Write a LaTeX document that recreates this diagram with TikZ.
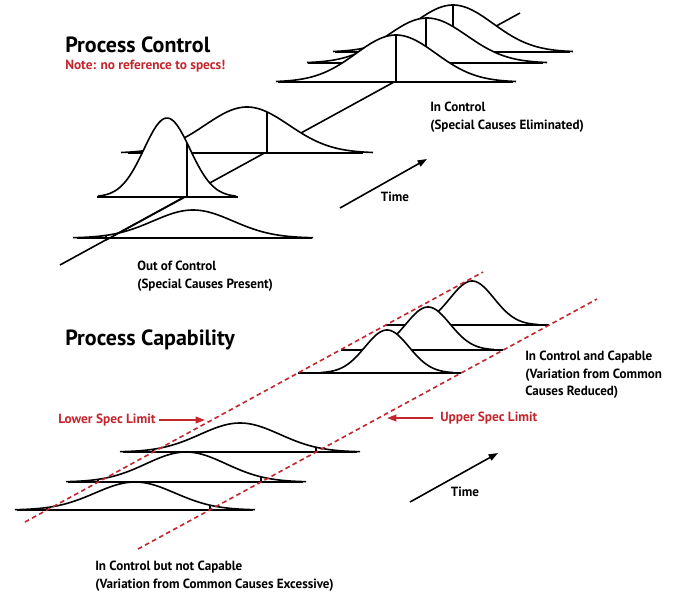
\documentclass[tikz,border=0pt]{standalone}
\usepackage{fontspec}
\setmainfont{PT Sans}
\usepackage{xcolor}
\usetikzlibrary{arrows.meta}
\definecolor{specred}{RGB}{196,38,46}

% mu, baseline y, sigma, height, left end, right end
\newcommand{\bellcurve}[6]{%
\fill[white] plot[domain=#1-3*#3:#1+3*#3,samples=80] (\x,{#2-#4*exp(-0.5*((\x-#1)/#3)*((\x-#1)/#3))}) -- cycle;
\draw[bell] plot[domain=#1-3*#3:#1+3*#3,samples=80] (\x,{#2-#4*exp(-0.5*((\x-#1)/#3)*((\x-#1)/#3))});
\draw[bell] (#5,#2)--(#6,#2);}
% vertical from the baseline up to the curve at x=#5
\newcommand{\bellmark}[5]{%
\draw[bell] (#5,#2)--(#5,{#2-#4*exp(-0.5*((#5-#1)/#3)*((#5-#1)/#3))});}

\begin{document}
\begin{tikzpicture}[x=0.75pt,y=-0.75pt,
  bell/.style={line width=1.2pt,line join=round},
  spec/.style={specred,line width=1.2pt,dash pattern=on 3.5pt off 2.5pt},
  title/.style={inner sep=0pt,anchor=base west,font=\bfseries\fontsize{16.5}{19}\selectfont,xscale=1.0},
  note/.style={inner sep=0pt,anchor=base west,specred,font=\bfseries\fontsize{10}{12}\selectfont,xscale=1.0},
  lbl/.style={inner sep=0pt,anchor=north west,align=left,font=\bfseries\fontsize{10}{13}\selectfont,xscale=0.98},
  speclbl/.style={inner sep=0pt,anchor=west,specred,font=\bfseries\fontsize{10}{12}\selectfont,xscale=1.0},
  timearrow/.style={line width=1.2pt,-{Triangle[length=7pt,width=5pt]}},
  specarrow/.style={specred,line width=1.2pt,-{Triangle[length=7pt,width=5pt]}}]
\useasboundingbox[fill=white] (0,0) rectangle (680,597);

\node[title] (pctitle) at (65,52) {Process Control};
\node[note] (pcnote) at (65,69) {Note: no reference to specs!};

\coordinate (axstart) at (60,265);
\coordinate (axend) at (520,13);
\draw[bell] (axstart)--(axend);

\bellcurve{453}{52}{40}{47}{335}{570}
\bellmark{453}{52}{40}{47}{453}
\bellcurve{427}{63}{40}{45}{308}{543}
\bellmark{427}{63}{40}{45}{426}
\bellcurve{396}{82}{40}{47}{278}{513}
\bellmark{396}{82}{40}{47}{396}
\bellcurve{247}{153}{42}{46}{128}{363}
\bellmark{247}{153}{42}{46}{267}
\bellcurve{167}{197}{23}{79}{97}{238}
\bellmark{167}{197}{23}{79}{187}
\bellcurve{193}{238}{40}{28}{77}{312}
\bellmark{193}{238}{40}{28}{106}
\draw[bell] (106,240)--(185,197);

\node[lbl] (incontrol) at (430,102) {In Control\\(Special Causes Eliminated)};
\node[lbl] (outcontrol) at (137,261) {Out of Control\\(Special Causes Present)};
\coordinate (time1s) at (340,208);
\coordinate (time1e) at (427,159);
\draw[timearrow] (time1s)--(time1e);
\node[lbl,anchor=center] (time1) at (395,197) {Time};

\node[title] (pcaptitle) at (65,345) {Process Capability};

\bellcurve{472}{325}{22}{44}{386}{549}
\bellcurve{428}{350}{22}{43}{341}{503}
\bellcurve{387}{373}{22}{43}{298}{461}
\bellcurve{240}{452}{40}{29}{123}{357}
\bellmark{240}{452}{40}{29}{153}
\bellmark{240}{452}{40}{29}{316}
\bellcurve{186}{482}{40}{30}{68}{303}
\bellmark{186}{482}{40}{30}{98}
\bellmark{186}{482}{40}{30}{261}
\bellcurve{135}{510}{40}{28}{17}{253}
\bellmark{135}{510}{40}{28}{47}
\bellmark{135}{510}{40}{28}{210}

\coordinate (lslstart) at (25,522);
\coordinate (lslend) at (483,272);
\coordinate (uslstart) at (138,549);
\coordinate (uslend) at (597,299);
\draw[spec] (lslstart)--(lslend);
\draw[spec] (uslstart)--(uslend);

\node[speclbl] (lsl) at (58,420) {Lower Spec Limit};
\coordinate (lslhead) at (205,420);
\draw[specarrow] (159,420)--(lslhead);
\node[speclbl] (usl) at (440,418) {Upper Spec Limit};
\coordinate (uslhead) at (387,418);
\draw[specarrow] (433,418)--(uslhead);

\node[lbl] (capable) at (525,351) {In Control and Capable\\(Variation from Common\\Causes Reduced)};
\node[lbl] (notcapable) at (95,561) {In Control but not Capable\\(Variation from Common Causes Excessive)};
\coordinate (time2s) at (410,502);
\coordinate (time2e) at (498,453);
\draw[timearrow] (time2s)--(time2e);
\node[lbl,anchor=center] (time2) at (465,492) {Time};
\end{tikzpicture}
\end{document}
